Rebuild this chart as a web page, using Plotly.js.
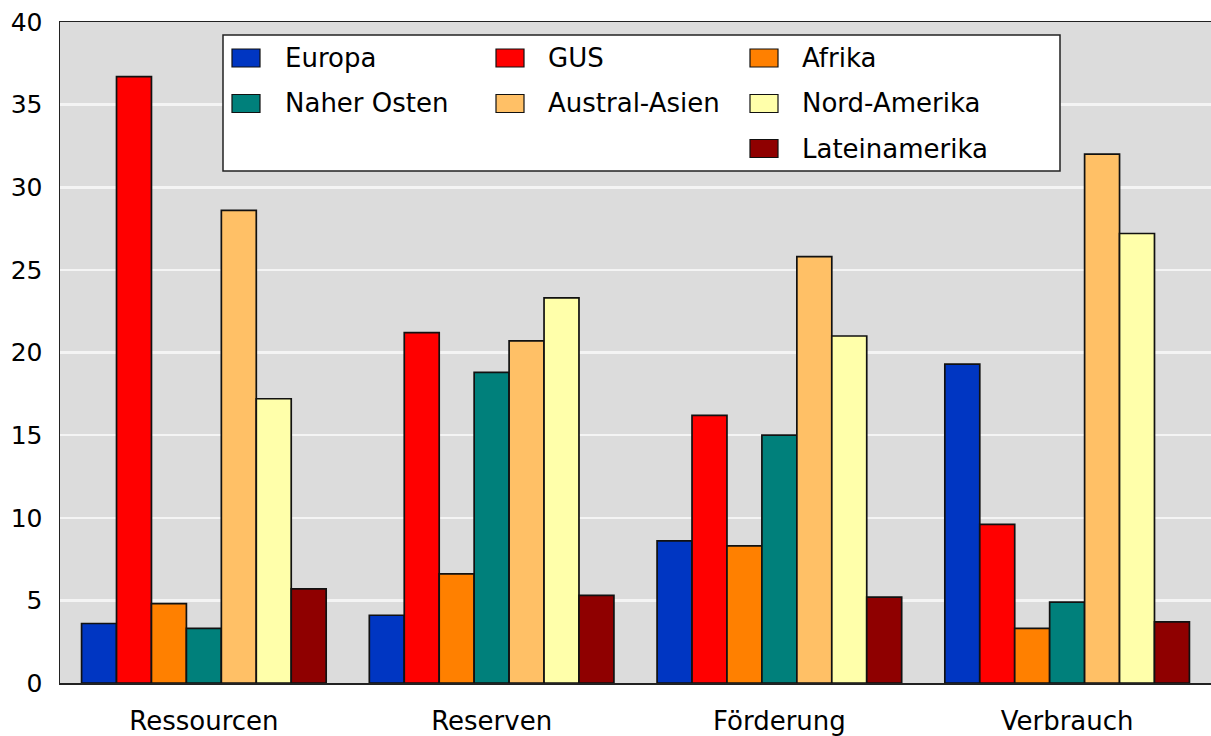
<!DOCTYPE html>
<html>
<head>
<meta charset="utf-8">
<script src="https://cdn.plot.ly/plotly-3.0.1.min.js"></script>
<style>
  html, body { margin: 0; padding: 0; background: #ffffff; }
  #chart { width: 1211px; height: 736px; }
</style>
</head>
<body>
<div id="chart"></div>
<script>
// Categories on the x axis
const categories = ['Ressourcen', 'Reserven', 'Förderung', 'Verbrauch'];

// Regional shares (percent) per category
const europa        = [3.6, 4.1, 8.6, 19.3];
const gus           = [36.7, 21.2, 16.2, 9.6];
const afrika        = [4.8, 6.6, 8.3, 3.3];
const naherOsten    = [3.3, 18.8, 15.0, 4.9];
const australAsien  = [28.6, 20.7, 25.8, 32.0];
const nordAmerika   = [17.2, 23.3, 21.0, 27.2];
const lateinamerika = [5.7, 5.3, 5.2, 3.7];

const seriesNames  = ['Europa', 'GUS', 'Afrika', 'Naher Osten', 'Austral-Asien', 'Nord-Amerika', 'Lateinamerika'];
const seriesValues = [europa, gus, afrika, naherOsten, australAsien, nordAmerika, lateinamerika];
const seriesColors = ['#0036c2', '#ff0000', '#ff8000', '#00807b', '#ffc066', '#ffffaa', '#8f0000'];

const yTicks = [0, 5, 10, 15, 20, 25, 30, 35, 40];

const FONT = '"DejaVu Sans", Verdana, sans-serif';

// Plot area geometry (pixels)
const W = 1211, H = 736;
const M = { l: 60, r: 0, t: 22, b: 53 };
const PW = W - M.l - M.r, PH = H - M.t - M.b;
const px = x => (x - M.l) / PW;
const py = y => (H - M.b - y) / PH;

const traces = seriesNames.map((name, i) => ({
  type: 'bar',
  name: name,
  x: categories,
  y: seriesValues[i],
  marker: { color: seriesColors[i], line: { color: '#111111', width: 1.7 } },
  showlegend: false,
  hoverinfo: 'x+y+name'
}));

// Boxed key: three columns, filled row by row; Lateinamerika sits in the third column of row three
const keySlots = [[0, 0], [0, 1], [0, 2], [1, 0], [1, 1], [1, 2], [2, 2]];
const colSymbolX = [232, 496, 750];
const colTextX = [283, 546, 800];
const rowCenterY = [58, 103.5, 148.5];

const shapes = [{
  type: 'rect', xref: 'paper', yref: 'paper',
  x0: px(223), x1: px(1060), y0: py(171), y1: py(35),
  fillcolor: '#ffffff', line: { color: '#222222', width: 1.5 }, layer: 'above'
}];
const annotations = [];
seriesNames.forEach((name, i) => {
  const [r, c] = keySlots[i];
  const cy = rowCenterY[r];
  shapes.push({
    type: 'rect', xref: 'paper', yref: 'paper',
    x0: px(colSymbolX[c]), x1: px(colSymbolX[c] + 28),
    y0: py(cy + 9), y1: py(cy - 9),
    fillcolor: seriesColors[i], line: { color: '#111111', width: 1.2 }, layer: 'above'
  });
  annotations.push({
    xref: 'paper', yref: 'paper',
    x: px(colTextX[c]), y: py(cy),
    xanchor: 'left', yanchor: 'middle',
    text: name, showarrow: false,
    font: { family: FONT, size: 26, color: '#000000' }
  });
});

const layout = {
  width: W, height: H,
  margin: M,
  paper_bgcolor: '#ffffff',
  plot_bgcolor: '#dcdcdc',
  barmode: 'group',
  bargap: 0.15,
  bargroupgap: 0,
  font: { family: FONT, size: 25, color: '#000000' },
  xaxis: {
    type: 'category',
    range: [-0.5, 3.5],
    showgrid: false,
    showline: true, mirror: true,
    linecolor: '#222222', linewidth: 1.5,
    ticks: '',
    ticklabelstandoff: 14,
    tickfont: { family: FONT, size: 26, color: '#000000' },
    fixedrange: true
  },
  yaxis: {
    range: [0, 40],
    tickvals: yTicks,
    ticktext: yTicks.map(String),
    showgrid: true, gridcolor: '#f4f4f4', gridwidth: 2.5,
    zeroline: false,
    showline: true, linecolor: '#222222', linewidth: 1.5,
    ticks: '',
    ticklabelstandoff: 11,
    tickfont: { family: FONT, size: 25, color: '#000000' },
    fixedrange: true
  },
  shapes: shapes,
  annotations: annotations
};

Plotly.newPlot('chart', traces, layout, { displayModeBar: false, staticPlot: true });
</script>
</body>
</html>
